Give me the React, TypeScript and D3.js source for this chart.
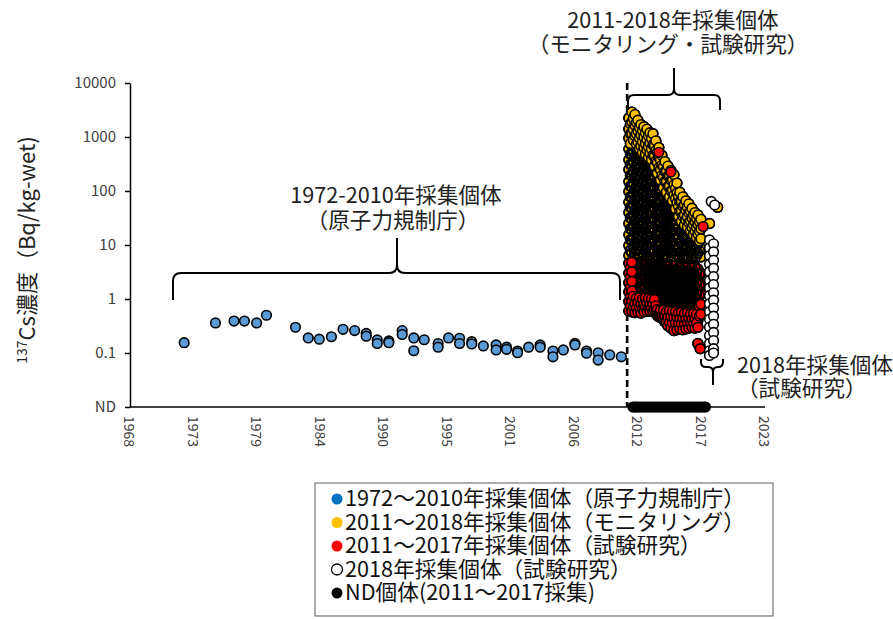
import React, { useRef, useEffect } from 'react'
import * as d3 from 'd3'

const FONT = "'Noto Sans CJK JP', 'Noto Sans', sans-serif"

// x axis: Excel date axis, one tick every 2000 days
const xTickLabels = ['1968', '1973', '1979', '1984', '1990', '1995', '2001', '2006', '2012', '2017', '2023']
const xStartYear = 1968.33
const xTickStepYears = 2000 / 365.25

const yTickValues = [10000, 1000, 100, 10, 1, 0.1]
const ndValue = 0.01
const accidentYear = 2011.2

// 1972-2010 (原子力規制庁) [year, Bq/kg-wet]
const regulatorSamples: [number, number][] = [
  [1973.0, 0.155], [1975.7, 0.36], [1977.3, 0.39], [1978.2, 0.39], [1979.25, 0.36], [1980.1, 0.5],
  [1982.6, 0.3], [1983.7, 0.19], [1984.65, 0.18], [1985.7, 0.2], [1986.7, 0.275], [1987.7, 0.26],
  [1988.7, 0.23], [1988.7, 0.205], [1989.65, 0.175], [1989.65, 0.15], [1990.65, 0.167], [1990.65, 0.155],
  [1991.8, 0.26], [1991.8, 0.22], [1992.8, 0.19], [1992.8, 0.11], [1993.7, 0.176], [1994.9, 0.15],
  [1994.9, 0.128], [1995.8, 0.19], [1996.75, 0.187], [1996.75, 0.15], [1997.8, 0.162], [1997.8, 0.147],
  [1998.8, 0.135], [1999.9, 0.141], [1999.9, 0.114], [2000.8, 0.128], [2000.8, 0.117], [2001.75, 0.109],
  [2001.75, 0.101], [2002.7, 0.128], [2003.7, 0.141], [2003.7, 0.128], [2004.8, 0.109], [2004.8, 0.085],
  [2005.7, 0.114], [2006.7, 0.151], [2006.7, 0.141], [2007.7, 0.109], [2007.7, 0.099], [2008.7, 0.101],
  [2008.7, 0.074], [2009.7, 0.092], [2010.7, 0.085]
]

// 2011-2018 monitoring, grouped by sampling date
const monitoringSamples: [number, number[]][] = [
  [2011.35, [2250, 1400, 950, 600, 380, 250, 150, 98, 62, 40, 25, 15.5, 9.8, 6.4]],
  [2011.48, [1750, 1150, 760, 480, 310, 195, 122, 78, 50, 32, 20, 12.5, 8]],
  [2011.6, [2900, 1900, 1150, 720, 470, 300, 190, 118, 75, 48, 30, 19, 12, 7.2]],
  [2011.73, [2200, 1380, 870, 560, 350, 225, 140, 90, 57, 36, 23, 14.5, 9]],
  [2011.86, [2600, 1650, 1050, 640, 410, 265, 170, 105, 66, 43, 27, 17, 10.8, 6.8]],
  [2011.99, [1850, 1150, 740, 460, 300, 190, 120, 76, 48, 31, 19.5, 12.5, 7.8]],
  [2012.12, [2050, 1300, 820, 520, 330, 210, 135, 85, 55, 35, 22, 14, 8.8, 5.9]],
  [2012.25, [1500, 960, 610, 390, 245, 155, 100, 63, 40, 25.5, 16, 10.2, 6.6]],
  [2012.38, [1700, 1100, 690, 440, 280, 180, 112, 72, 46, 29, 18.5, 11.7, 7.5]],
  [2012.51, [1300, 820, 520, 335, 212, 135, 86, 55, 35, 22, 14, 9]],
  [2012.64, [1550, 1000, 630, 400, 255, 160, 102, 65, 41, 26, 16.5, 10.5, 6.6]],
  [2012.77, [1180, 750, 480, 305, 195, 124, 79, 50, 32, 20, 12.8, 8]],
  [2012.9, [1400, 900, 580, 360, 230, 148, 94, 60, 38, 24, 15, 9.5, 6.0]],
  [2013.03, [1050, 660, 420, 270, 172, 110, 70, 44, 28, 18, 11.5, 7.4]],
  [2013.16, [1200, 780, 500, 315, 200, 128, 82, 52, 33, 21, 13.5, 8.5, 5.8]],
  [2013.29, [940, 600, 380, 240, 155, 99, 63, 40, 25.5, 16.5, 10.5, 6.8]],
  [2013.42, [1150, 720, 460, 290, 185, 118, 75, 48, 31, 19.5, 12.5, 8, 5.6]],
  [2013.55, [700, 450, 290, 185, 118, 75, 48, 31, 20, 12.8, 8.2]],
  [2013.67, [850, 560, 360, 230, 148, 94, 60, 38, 24, 15.5, 10, 6.4]],
  [2013.8, [520, 340, 215, 140, 90, 57, 37, 23.5, 15, 9.6, 6.2]],
  [2013.93, [640, 420, 270, 175, 112, 72, 46, 29, 18.5, 12, 7.6, 5.5]],
  [2014.06, [380, 250, 160, 102, 65, 42, 27, 17, 11, 7]],
  [2014.19, [460, 300, 195, 125, 80, 51, 33, 21, 13.5, 8.6, 5.8]],
  [2014.32, [280, 180, 116, 74, 47, 30, 19.5, 12.5, 8]],
  [2014.45, [350, 230, 150, 96, 62, 40, 26, 16.5, 10.5, 6.8]],
  [2014.58, [230, 150, 96, 62, 40, 25.5, 16.5, 10.5, 6.8]],
  [2014.71, [290, 190, 122, 78, 50, 32, 21, 13.5, 8.7, 5.9]],
  [2014.84, [190, 122, 78, 50, 32, 21, 13.5, 8.6]],
  [2014.97, [240, 158, 100, 65, 42, 27, 17.5, 11.2, 7.2]],
  [2015.1, [160, 104, 66, 43, 27.5, 17.5, 11.3, 7.3]],
  [2015.23, [200, 130, 84, 54, 35, 22.5, 14.5, 9.3, 6.1]],
  [2015.36, [112, 73, 47, 30, 19.5, 12.5, 8.1]],
  [2015.49, [140, 92, 60, 39, 25, 16, 10.5, 6.8]],
  [2015.62, [80, 52, 34, 22, 14, 9, 6.2]],
  [2015.74, [95, 64, 42, 27, 17.5, 11.3, 7.3, 5.6]],
  [2015.87, [64, 42, 27.5, 18, 11.6, 7.5]],
  [2016.0, [78, 52, 34, 22, 14.5, 9.4, 6.2]],
  [2016.13, [55, 36, 23.5, 15.5, 10, 6.6]],
  [2016.26, [66, 44, 29, 19, 12.5, 8.2, 5.8]],
  [2016.39, [50, 33, 21.5, 14, 9.2, 6.2]],
  [2016.52, [58, 39, 26, 17, 11, 7.3]],
  [2016.65, [42, 28, 18.5, 12, 8]],
  [2016.78, [48, 32, 21, 14, 9.2, 6.2]],
  [2016.91, [36, 24, 15.5, 10.4, 7]],
  [2017.04, [40, 27, 18, 12, 8, 5.7]],
  [2017.17, [31, 21, 13.8, 9.2, 6.2]],
  [2017.3, [36, 24, 16, 10.5, 7]],
  [2017.43, [27, 18, 11.8, 7.8]],
  [2017.56, [30, 20, 13, 8.5, 6]],
  [2018.3, [25]],
  [2019.0, [50]]
]

// 2011-2017 試験研究
const researchSamples: [number, number[]][] = [
  [2011.35, [4.6, 3.0, 2.0, 1.35, 0.9, 0.6]],
  [2011.48, [3.8, 2.5, 1.65, 1.1, 0.74]],
  [2011.6, [4.8, 3.2, 2.1, 1.4, 0.92, 0.58]],
  [2011.73, [3.9, 2.6, 1.7, 1.12, 0.73]],
  [2011.86, [4.4, 2.9, 1.9, 1.25, 0.82, 0.56]],
  [2011.99, [3.7, 2.4, 1.55, 1.03, 0.68]],
  [2012.12, [4.7, 3.1, 2.0, 1.3, 0.87, 0.57]],
  [2012.25, [3.8, 2.5, 1.6, 1.05, 0.7]],
  [2012.38, [4.5, 2.9, 1.9, 1.25, 0.8, 0.55]],
  [2012.51, [3.6, 2.35, 1.5, 1.0, 0.66]],
  [2012.64, [4.2, 2.8, 1.8, 1.2, 0.78, 0.58]],
  [2012.77, [3.7, 2.4, 1.6, 1.05, 0.7]],
  [2012.9, [4.6, 3.0, 2.0, 1.3, 0.85, 0.6]],
  [2013.03, [3.6, 2.35, 1.55, 1.02, 0.68]],
  [2013.16, [4.3, 2.8, 1.85, 1.2, 0.8, 0.6]],
  [2013.29, [3.7, 2.4, 1.55, 1.0, 0.68]],
  [2013.42, [4.5, 2.9, 1.9, 1.25, 0.82, 0.58]],
  [2013.55, [3.5, 2.3, 1.5, 0.98, 0.64]],
  [2013.67, [4.1, 2.7, 1.75, 1.15, 0.75, 0.55]],
  [2013.8, [3.6, 2.35, 1.5, 0.98, 0.64, 0.5]],
  [2013.93, [520, 4.4, 2.9, 1.9, 1.2, 0.8, 0.52, 0.47]],
  [2014.06, [3.5, 2.25, 1.45, 0.95, 0.62, 0.46]],
  [2014.19, [4.2, 2.7, 1.75, 1.15, 0.75, 0.5, 0.44]],
  [2014.32, [3.6, 2.3, 1.5, 0.96, 0.62, 0.42]],
  [2014.45, [4.5, 2.9, 1.9, 1.2, 0.78, 0.5, 0.38]],
  [2014.58, [3.4, 2.2, 1.4, 0.9, 0.58, 0.37]],
  [2014.71, [4.0, 2.6, 1.7, 1.1, 0.7, 0.46, 0.32]],
  [2014.84, [3.5, 2.25, 1.45, 0.92, 0.6, 0.37]],
  [2014.97, [225, 4.3, 2.8, 1.8, 1.15, 0.74, 0.48, 0.29]],
  [2015.1, [3.4, 2.15, 1.4, 0.9, 0.58, 0.36]],
  [2015.23, [4.1, 2.6, 1.7, 1.1, 0.7, 0.45, 0.26]],
  [2015.36, [3.5, 2.25, 1.45, 0.92, 0.58, 0.36]],
  [2015.49, [4.4, 2.8, 1.8, 1.15, 0.72, 0.46, 0.27]],
  [2015.62, [3.3, 2.1, 1.35, 0.86, 0.55, 0.35]],
  [2015.74, [4.0, 2.6, 1.65, 1.05, 0.68, 0.43, 0.28]],
  [2015.87, [3.4, 2.2, 1.4, 0.88, 0.56, 0.35]],
  [2016.0, [4.2, 2.7, 1.7, 1.1, 0.7, 0.44, 0.27]],
  [2016.13, [3.2, 2.05, 1.3, 0.84, 0.54, 0.35]],
  [2016.26, [3.9, 2.5, 1.6, 1.05, 0.66, 0.42, 0.28]],
  [2016.39, [3.3, 2.1, 1.35, 0.86, 0.55, 0.36]],
  [2016.52, [4.1, 2.6, 1.7, 1.1, 0.7, 0.44, 0.29]],
  [2016.65, [3.2, 2.0, 1.3, 0.82, 0.53, 0.36]],
  [2016.78, [3.8, 2.5, 1.6, 1.0, 0.65, 0.42, 0.3]],
  [2016.91, [3.2, 2.05, 1.3, 0.83, 0.54, 0.36]],
  [2017.04, [4.0, 2.6, 1.65, 1.05, 0.67, 0.43, 0.29]],
  [2017.17, [3.0, 1.95, 1.25, 0.8, 0.52, 0.36]],
  [2017.3, [3.6, 2.3, 1.5, 0.95, 0.62, 0.4, 0.3, 0.15]],
  [2017.43, [2.8, 1.8, 1.15, 0.74, 0.48]],
  [2017.5, [0.12]],
  [2017.56, [3.0, 1.9, 1.25, 0.8, 0.52]],
  [2017.75, [22]]
]

// 2018 試験研究 (open circles)
const research2018Samples: [number, number[]][] = [
  [2018.3, [12.4, 8.8, 6.3, 4.4, 3.2, 2.2, 1.6, 1.15, 0.82, 0.58, 0.42, 0.3, 0.21, 0.15, 0.11, 0.09]],
  [2018.45, [64]],
  [2018.65, [10.5, 7.5, 5.2, 3.7, 2.6, 1.85, 1.3, 0.95, 0.68, 0.48, 0.34, 0.24, 0.17, 0.12, 0.1]],
  [2018.75, [55]]
]

// ND individuals 2011-2017 (sampling dates)
const ndSampleYears = [
  2011.7, 2011.85, 2012.0, 2012.2, 2012.4, 2012.6, 2012.8, 2013.0, 2013.2, 2013.4, 2013.6, 2013.8, 2014.0,
  2014.2, 2014.4, 2014.6, 2014.8, 2015.0, 2015.2, 2015.4, 2015.6, 2015.8, 2016.0, 2016.2, 2016.4, 2016.6,
  2016.8, 2017.0, 2017.2, 2017.4, 2017.6, 2017.8, 2017.95
]

const legendItems = [
  { label: '1972～2010年採集個体（原子力規制庁）', fill: '#0070C0', stroke: 'none' },
  { label: '2011～2018年採集個体（モニタリング）', fill: '#FFC000', stroke: 'none' },
  { label: '2011～2017年採集個体（試験研究）', fill: '#FF0000', stroke: 'none' },
  { label: '2018年採集個体（試験研究）', fill: '#FFFFFF', stroke: '#000' },
  { label: 'ND個体(2011～2017採集)', fill: '#000000', stroke: 'none' }
]

const W = 893
const H = 619
const plot = { left: 130, right: 765, top: 83, bottom: 407 }
const R = 4.8

type Pt = [number, number]
type Group = [number, number[]]

const flatten = (groups: Group[]): Pt[] =>
  groups.flatMap(([yr, vals]) => vals.map(v => [yr, v] as Pt))

// outermost samples of each date (they sit on top of the dense cloud)
const edgeOf = (groups: Group[], keep: (v: number, i: number, n: number, yr: number) => boolean): Pt[] =>
  groups.flatMap(([yr, vals]) => vals.filter((v, i) => keep(v, i, vals.length, yr)).map(v => [yr, v] as Pt))

function bracePath(x1: number, x2: number, yb: number, endY: number, tipX: number, tipY: number, r: number) {
  const s = Math.sign(endY - yb)
  const t = Math.sign(tipY - yb)
  return [
    `M${x1},${endY}`, `L${x1},${yb + s * r}`, `Q${x1},${yb} ${x1 + r},${yb}`,
    `L${tipX - r},${yb}`, `Q${tipX},${yb} ${tipX},${yb + t * r}`, `L${tipX},${tipY}`,
    `M${tipX},${yb + t * r}`, `Q${tipX},${yb} ${tipX + r},${yb}`,
    `L${x2 - r},${yb}`, `Q${x2},${yb} ${x2},${yb + s * r}`, `L${x2},${endY}`
  ].join(' ')
}

export default function App() {
  const svgRef = useRef<SVGSVGElement>(null)

  useEffect(() => {
    if (!svgRef.current) return
    const svg = d3.select(svgRef.current)
    svg.selectAll('*').remove()

    const x = d3.scaleLinear()
      .domain([xStartYear, xStartYear + xTickStepYears * (xTickLabels.length - 1)])
      .range([plot.left, plot.right])
    const y = d3.scaleLog()
      .domain([ndValue, 10000])
      .range([plot.bottom, plot.top])

    svg.append('rect').attr('width', W).attr('height', H).attr('fill', '#fff')

    // y axis
    const yAxis = d3.axisLeft(y)
      .tickValues([...yTickValues, ndValue])
      .tickFormat(d => (+d === ndValue ? 'ND' : String(+d)))
      .tickSize(5)
      .tickSizeOuter(0)
      .tickPadding(9)
    const gy = svg.append('g').attr('transform', `translate(${plot.left},0)`).call(yAxis)
    gy.select('.domain').attr('stroke', '#000').attr('stroke-width', 1.5)
    gy.selectAll('.tick line').attr('stroke', '#000').attr('stroke-width', 1.5)
    gy.selectAll('.tick text')
      .attr('font-family', FONT).attr('font-size', 15).attr('fill', '#404040')

    // x axis line + rotated labels
    svg.append('line')
      .attr('x1', plot.left).attr('x2', plot.right)
      .attr('y1', plot.bottom).attr('y2', plot.bottom)
      .attr('stroke', '#000').attr('stroke-width', 1.5)
    svg.append('g').selectAll('text')
      .data(xTickLabels)
      .join('text')
      .attr('transform', (_, i) => `translate(${x(xStartYear + i * xTickStepYears)},${plot.bottom + 9}) rotate(90)`)
      .attr('dominant-baseline', 'central')
      .attr('font-family', FONT).attr('font-size', 14).attr('fill', '#404040')
      .text(d => d)

    // y title
    const yt = svg.append('text')
      .attr('transform', 'translate(35,250) rotate(-90)')
      .attr('text-anchor', 'middle')
      .attr('font-family', FONT).attr('font-size', 22).attr('fill', '#222')
    yt.append('tspan').attr('font-size', 14).attr('dy', -8).text('137')
    yt.append('tspan').attr('dy', 8).text('Cs濃度（Bq/kg-wet)')

    // 2011 dashed line
    svg.append('line')
      .attr('x1', x(accidentYear)).attr('x2', x(accidentYear))
      .attr('y1', plot.top).attr('y2', plot.bottom)
      .attr('stroke', '#000').attr('stroke-width', 2.6).attr('stroke-dasharray', '7,4')

    const drawPoints = (data: Pt[], fill: string, sw = 1.6) =>
      svg.append('g').selectAll('circle')
        .data(data)
        .join('circle')
        .attr('cx', d => x(d[0]))
        .attr('cy', d => y(d[1]))
        .attr('r', R)
        .attr('fill', fill)
        .attr('stroke', '#000')
        .attr('stroke-width', sw)

    const monitoring = flatten(monitoringSamples)
    const research = flatten(researchSamples)

    drawPoints(regulatorSamples, '#5B9BD5')
    drawPoints(monitoring, '#FFC000')
    drawPoints(research, '#FF0000')
    // thousands of overlapping markers read as a dark mass: outlines on top
    drawPoints([...monitoring, ...research], 'none', 1.7)
    drawPoints(edgeOf(monitoringSamples, (v, i) => i < 3), '#FFC000')
    drawPoints(edgeOf(researchSamples, (v, i, n, yr) => i >= n - 2 || v >= 10 || yr < 2011.7), '#FF0000')
    drawPoints(flatten(research2018Samples), '#FFFFFF')
    drawPoints(ndSampleYears.map(yr => [yr, ndValue] as Pt), '#000')

    // braces + annotations
    const braceStyle = (p: d3.Selection<SVGPathElement, unknown, null, undefined>) =>
      p.attr('fill', 'none').attr('stroke', '#000').attr('stroke-width', 2)
    braceStyle(svg.append('path').attr('d', bracePath(173, 620, 273, 300, 397, 238, 8)))
    braceStyle(svg.append('path').attr('d', bracePath(628, 720, 95, 110, 674, 68, 6)))
    braceStyle(svg.append('path').attr('d', bracePath(701, 723, 367, 359, 713, 385, 5)))

    const note = (tx: number, ty: number, anchor: string, txt: string) =>
      svg.append('text')
        .attr('x', tx).attr('y', ty).attr('text-anchor', anchor)
        .attr('font-family', FONT).attr('font-size', 21.6).attr('fill', '#222')
        .text(txt)
    note(396, 203, 'middle', '1972-2010年採集個体')
    note(393, 228, 'middle', '（原子力規制庁）')
    note(673, 28, 'middle', '2011-2018年採集個体')
    note(668, 52, 'middle', '（モニタリング・試験研究）')
    note(737, 373, 'start', '2018年採集個体')
    note(737, 396, 'start', '（試験研究）')

    // legend
    const lg = svg.append('g')
    lg.append('rect')
      .attr('x', 315).attr('y', 483).attr('width', 458).attr('height', 133)
      .attr('fill', '#fff').attr('stroke', '#595959').attr('stroke-width', 1)
    const items = lg.selectAll('g.item')
      .data(legendItems)
      .join('g')
      .attr('class', 'item')
      .attr('transform', (_, i) => `translate(0,${506 + i * 23.5})`)
    items.append('circle')
      .attr('cx', 337).attr('cy', -7).attr('r', 5.5)
      .attr('fill', d => d.fill).attr('stroke', d => d.stroke).attr('stroke-width', 1.3)
    items.append('text')
      .attr('x', 345).attr('y', 0)
      .attr('font-family', FONT).attr('font-size', 21.7).attr('fill', '#111')
      .text(d => d.label)
  }, [])

  return (
    <svg
      ref={svgRef}
      width={W}
      height={H}
      style={{ position: 'absolute', left: 0, top: 0 }}
    />
  )
}
